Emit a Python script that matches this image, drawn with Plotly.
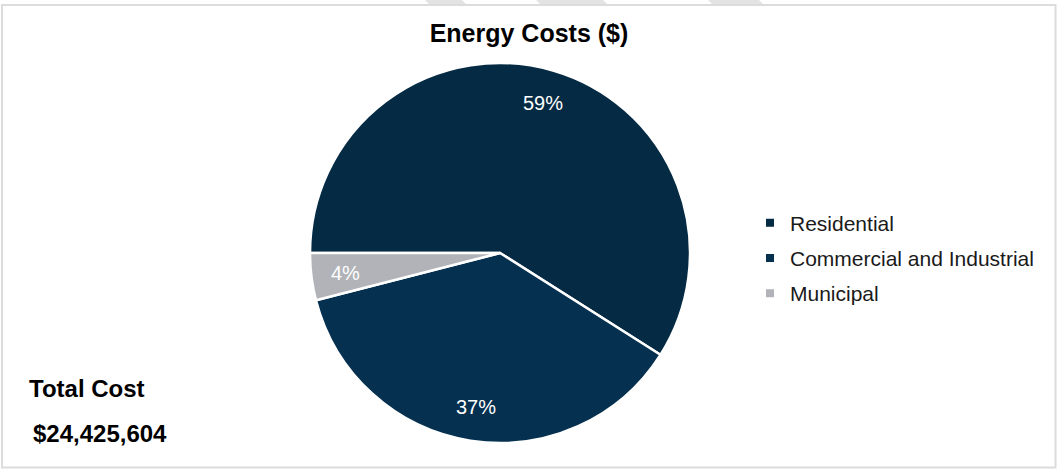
import math
import plotly.graph_objects as go

categories = ["Residential", "Commercial and Industrial", "Municipal"]
values = [59, 37, 4]
colors = ["#052A44", "#05304F", "#B1B3B8"]
title_text = "Energy Costs ($)"
total_label = "Total Cost"
total_value = "$24,425,604"

FONT = "Arial, Liberation Sans, sans-serif"
W, H = 1057, 470

# pie placement (pixels)
CX, CY, R = 500, 253, 190
START = 270  # compass angle where the first slice starts (9 o'clock), clockwise
LABEL_R = 0.82

dom_x = [(CX - R) / W, (CX + R) / W]
dom_y = [1 - (CY + R) / H, 1 - (CY - R) / H]

fig = go.Figure()
fig.add_trace(go.Pie(
    labels=categories,
    values=values,
    sort=False,
    direction="clockwise",
    rotation=START,
    marker=dict(colors=colors, line=dict(color="white", width=2.5)),
    textinfo="none",
    domain=dict(x=dom_x, y=dom_y),
    hoverinfo="label+percent",
    showlegend=False,
))

# legend entries (square swatches), one group each so rows can be spaced
for name, col in zip(categories, colors):
    fig.add_trace(go.Scatter(
        x=[None], y=[None], mode="markers", name=name, legendgroup=name,
        marker=dict(symbol="square", size=8, color=col),
        hoverinfo="skip",
    ))

# percentage labels placed from the data (mid-angle of each slice)
total = sum(values)
annotations = []
acc = 0
for v in values:
    mid = START + (acc + v / 2) / total * 360
    acc += v
    rad = math.radians(mid)
    px = CX + LABEL_R * R * math.sin(rad)
    py = CY - LABEL_R * R * math.cos(rad)
    annotations.append(dict(
        text=f"{round(v / total * 100)}%", x=px / W, y=1 - py / H,
        xref="paper", yref="paper", showarrow=False,
        xanchor="center", yanchor="middle",
        font=dict(family=FONT, size=20, color="white")))

annotations += [
    dict(text="<b>" + total_label + "</b>", x=27 / W, y=1 - 388 / H,
         xref="paper", yref="paper", showarrow=False, xanchor="left", yanchor="middle",
         font=dict(family=FONT, size=24, color="black")),
    dict(text="<b>" + total_value + "</b>", x=31 / W, y=1 - 433 / H,
         xref="paper", yref="paper", showarrow=False, xanchor="left", yanchor="middle",
         font=dict(family=FONT, size=24, color="black")),
]

fig.update_layout(
    width=W, height=H,
    margin=dict(l=0, r=0, t=0, b=0),
    paper_bgcolor="white",
    plot_bgcolor="white",
    xaxis=dict(visible=False),
    yaxis=dict(visible=False),
    title=dict(text="<b>" + title_text + "</b>", x=529 / W, xanchor="center",
               y=1 - 33 / H, yanchor="middle",
               font=dict(family=FONT, size=25, color="black")),
    legend=dict(x=750 / W, y=1 - 258 / H, xanchor="left", yanchor="middle",
                font=dict(family=FONT, size=21, color="#1a1a1a"),
                tracegroupgap=5, bgcolor="rgba(0,0,0,0)"),
    font=dict(family=FONT),
    annotations=annotations,
)

# frame around the chart
fig.add_shape(type="rect", xref="paper", yref="paper",
              x0=2 / W, x1=1055.5 / W, y0=1 - 467.5 / H, y1=1 - 5 / H,
              line=dict(color="#DCDCDC", width=2), fillcolor="rgba(0,0,0,0)")
# faint decorative shapes above the frame
for x0, x1 in [(425, 462), (536, 603), (708, 759)]:
    fig.add_shape(type="path", xref="paper", yref="paper",
                  path=f"M {x0/W},{1} L {x1/W},{1} L {(x1+4)/W},{1-4/H} L {(x0+4)/W},{1-4/H} Z",
                  line=dict(width=0), fillcolor="#E3E3E3")

fig.write_html("out.html", config={"displayModeBar": False},
               post_script="document.body.style.margin='0px';")
